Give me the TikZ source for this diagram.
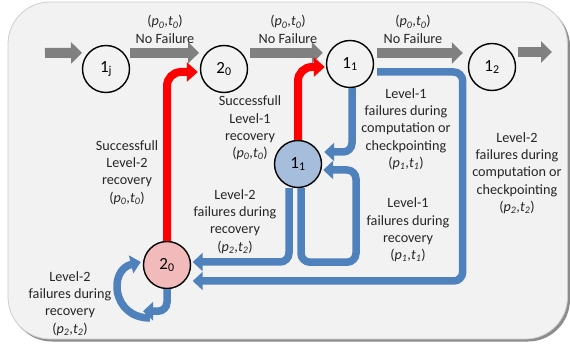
\documentclass[tikz,border=0pt]{standalone}
\usepackage{fontspec}
\setmainfont{Carlito}
\usetikzlibrary{arrows.meta,calc}
\definecolor{bgfill}{RGB}{242,242,242}
\definecolor{bgline}{RGB}{205,205,205}
\definecolor{shadowgray}{RGB}{140,140,140}
\definecolor{arrgray}{RGB}{128,128,128}
\definecolor{myblue}{RGB}{79,129,189}
\definecolor{nodeblue}{RGB}{166,189,219}
\definecolor{nodepink}{RGB}{242,186,186}
\newcommand\pairlbl[2]{(\textit{p}\textsubscript{\textit{#1}},\textit{t}\textsubscript{\textit{#2}})}
\begin{document}
\begin{tikzpicture}[x=1pt,y=-1pt,
 state/.style={circle,draw=black,line width=1.4pt,minimum size=47pt,inner sep=0pt,font=\fontsize{17}{20}\selectfont},
 lbl/.style={align=center,font=\fontsize{14.2}{17.3}\selectfont,text=black!85,inner sep=0pt},
 grayarrow/.style={draw=arrgray,line width=10pt,-{Triangle[length=11pt,width=21pt]}},
 redarrow/.style={draw=red,line width=8pt,rounded corners=14pt,-{Triangle[length=11pt,width=19pt]}},
 bluearrow/.style={draw=myblue,line width=7.5pt,rounded corners=9pt,-{Triangle[length=10pt,width=18pt]}}]
\useasboundingbox (0,0) rectangle (570,347);
% background
\fill[shadowgray,rounded corners=42pt] (10,4.5) rectangle (570,341.5);
\filldraw[fill=bgfill,draw=bgline,line width=0.8pt,rounded corners=42pt] (8,2) rectangle (567.5,339);
% nodes
\node[state] (n1j) at (106,69) {1\textsubscript{j}};
\node[state] (n20) at (224,69) {2\textsubscript{0}};
\node[state] (n11) at (350,64) {1\textsubscript{1}};
\node[state] (n12) at (492,67) {1\textsubscript{2}};
\node[state,fill=nodeblue] (b11) at (298,164) {1\textsubscript{1}};
\node[state,fill=nodepink] (p20) at (167,265) {2\textsubscript{0}};
\coordinate (start) at (45,53);
\coordinate (finish) at (552,52);
% gray arrows
\draw[grayarrow] (start) -- ([xshift=-6pt]n1j.138);
\draw[grayarrow] ([xshift=6pt]n1j.42) -- ([xshift=-7pt]n20.138);
\draw[grayarrow] ([xshift=8pt]n20.42) -- ([xshift=-3pt]n20.42 -| n11.west);
\draw[grayarrow] ($(n11.east)+(3,-11)$) -- ($(n12.west)+(-5,-14)$);
\draw[grayarrow] ($(n12.east)+(2,-15)$) -- (finish);
% red arrows
\draw[redarrow] (p20.north) |- ($(n20.west)+(-2,3)$);
\draw[redarrow] (b11.north) |- ($(n11.west)+(-1,3)$);
% blue arrows
\draw[bluearrow] ($(n11.south)+(2,0)$) |- ($(b11.east)+(2,-12)$);
\draw[bluearrow] ($(n11.east)+(3,8)$) -- ++(85.5,0) |- ($(p20.east)+(1.5,16)$);
\draw[bluearrow] ($(b11.south)+(3,0)$) -- ++(0,74) -- ++(55,0) |- ($(b11.east)+(1,6)$);
\draw[bluearrow] ($(b11.south)+(-9,0)$) |- ($(p20.east)+(1.5,-3)$);
\draw[bluearrow] (p20.south) |- ++(-24,22);
\draw[bluearrow,rounded corners=0pt] (150,318) .. controls (112,318) and (108,270) .. ($(p20.west)+(-2,-3)$);
% labels
\node[lbl] (l1) at (165,29.5) {\pairlbl{0}{0}\\No Failure};
\node[lbl] (l2) at (288,29.5) {\pairlbl{0}{0}\\No Failure};
\node[lbl] (l3) at (413,29.5) {\pairlbl{0}{0}\\No Failure};
\node[lbl] (l4) at (250,128) {Successfull\\Level-1\\recovery\\\pairlbl{0}{0}};
\node[lbl] (l5) at (127,172.5) {Successfull\\Level-2\\recovery\\\pairlbl{0}{0}};
\node[lbl] (l6) at (235,221.5) {Level-2\\failures during\\recovery\\\pairlbl{2}{2}};
\node[lbl] (l7) at (70,303.5) {Level-2\\failures during\\recovery\\\pairlbl{2}{2}};
\node[lbl] (l8) at (406,129) {Level-1\\failures during\\computation or\\checkpointing\\\pairlbl{1}{1}};
\node[lbl] (l9) at (517,173) {Level-2\\failures during\\computation or\\checkpointing\\\pairlbl{2}{2}};
\node[lbl] (l10) at (408,230) {Level-1\\failures during\\recovery\\\pairlbl{1}{1}};
\end{tikzpicture}
\end{document}
